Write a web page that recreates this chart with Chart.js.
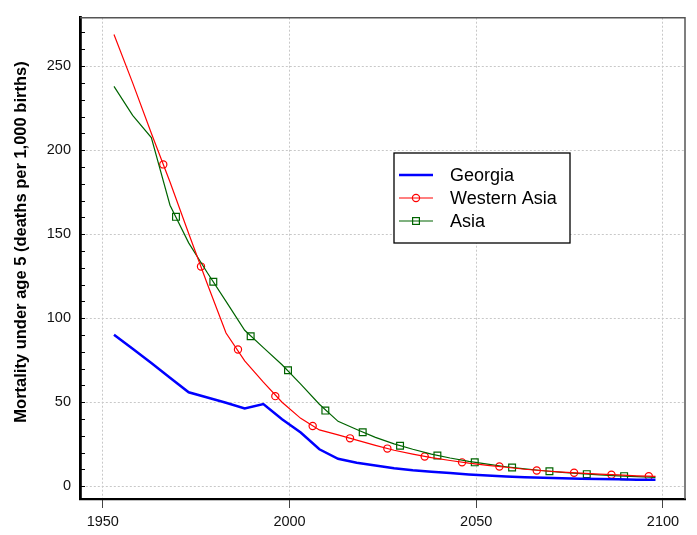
<!DOCTYPE html>
<html>
<head>
<meta charset="utf-8">
<script src="https://cdn.jsdelivr.net/npm/chart.js@4.4.1/dist/chart.umd.min.js"></script>
<style>
html, body { margin: 0; padding: 0; background: #fff; }
</style>
</head>
<body>
<canvas id="chart" width="697" height="535"></canvas>
<script>
// period mid-years (5-year steps)
var years = [1953, 1958, 1963, 1968, 1973, 1978, 1983, 1988, 1993, 1998,
             2003, 2008, 2013, 2018, 2023, 2028, 2033, 2038, 2043, 2048,
             2053, 2058, 2063, 2068, 2073, 2078, 2083, 2088, 2093, 2098];

var georgia = [90.1, 81.8, 73.3, 64.6, 55.9, 52.8, 49.7, 46.3, 48.9, 39.9,
               32.0, 22.0, 16.3, 14.0, 12.3, 10.7, 9.5, 8.6, 7.8, 7.0,
               6.4, 5.8, 5.4, 5.1, 4.8, 4.5, 4.3, 4.1, 3.9, 3.8];

var westernAsia = [268.8, 240.0, 210.0, 181.0, 150.4, 120.3, 91.2, 74.6, 61.9, 50.0,
                   40.4, 33.5, 30.6, 27.4, 24.3, 21.4, 19.1, 17.0, 15.3, 13.7,
                   12.4, 11.3, 10.1, 9.2, 8.4, 7.8, 7.2, 6.7, 6.2, 5.9];

var asia = [237.9, 220.7, 207.5, 167.2, 144.8, 127.0, 110.0, 92.8, 82.5, 72.3,
            60.8, 48.8, 38.6, 33.8, 29.1, 25.2, 22.0, 19.1, 16.8, 14.8,
            13.1, 11.6, 10.3, 9.2, 8.3, 7.5, 6.8, 6.2, 5.7, 5.3];

// symbols drawn along the lines every 10 years
var westernAsiaMarkYears = [1966.2, 1976.3, 1986.2, 1996.2, 2006.2, 2016.2, 2026.2,
                            2036.2, 2046.2, 2056.2, 2066.2, 2076.2, 2086.2, 2096.2];
var westernAsiaMarks = [191.5, 130.7, 81.4, 53.6, 35.8, 28.5, 22.4,
                        17.7, 14.2, 11.7, 9.4, 8.0, 6.8, 6.0];

var asiaMarkYears = [1969.6, 1979.6, 1989.6, 1999.6, 2009.6, 2019.6, 2029.6,
                     2039.6, 2049.6, 2059.6, 2069.6, 2079.6, 2089.6];
var asiaMarks = [160.3, 121.7, 89.2, 69.0, 45.0, 32.1, 24.1,
                 18.3, 14.2, 11.1, 8.9, 7.2, 6.0];

var xTicks = [1950, 2000, 2050, 2100];
var yTicks = [0, 50, 100, 150, 200, 250];
var yMinorStep = 10;
var yTitle = 'Mortality under age 5 (deaths per 1,000 births)';

function pts(xs, ys) {
  return xs.map(function (x, i) { return { x: x, y: ys[i] }; });
}

var fontFamily = 'Arial, "Liberation Sans", sans-serif';

var legendItems = [
  { label: 'Georgia', color: '#0000ff', width: 2.5, marker: null },
  { label: 'Western Asia', color: '#ff0000', width: 1.2, marker: 'circle' },
  { label: 'Asia', color: '#006400', width: 1.2, marker: 'rect' }
];

// inward ticks on the y axis, frame top/right, y title, boxed legend
var extras = {
  id: 'extras',
  afterDraw: function (chart) {
    var c = chart.ctx;
    var area = chart.chartArea;
    var ys = chart.scales.y;
    c.save();
    c.strokeStyle = '#000';
    c.lineWidth = 1;
    ys.ticks.forEach(function (t) {
      var py = Math.round(ys.getPixelForValue(t.value)) + 0.5;
      c.beginPath();
      c.moveTo(area.left, py);
      c.lineTo(area.left + 5, py);
      c.stroke();
    });
    c.strokeStyle = '#555';
    c.lineWidth = 1.5;
    c.beginPath();
    c.moveTo(area.left, area.top);
    c.lineTo(area.right, area.top);
    c.lineTo(area.right, area.bottom);
    c.stroke();

    // y axis title
    c.save();
    c.translate(21, 242);
    c.rotate(-Math.PI / 2);
    c.font = 'bold 16.5px ' + fontFamily;
    c.fillStyle = '#000';
    c.textAlign = 'center';
    c.textBaseline = 'middle';
    c.fillText(yTitle, 0, 0);
    c.restore();

    // legend
    var bx = 394, by = 153, bw = 176, bh = 90;
    c.fillStyle = '#fff';
    c.fillRect(bx, by, bw, bh);
    c.strokeStyle = '#000';
    c.lineWidth = 1.3;
    c.strokeRect(bx, by, bw, bh);
    c.font = '18px ' + fontFamily;
    c.textBaseline = 'middle';
    legendItems.forEach(function (it, i) {
      var y = by + 22 + i * 23;
      c.strokeStyle = it.color;
      c.lineWidth = it.width;
      c.beginPath();
      c.moveTo(bx + 5, y);
      c.lineTo(bx + 39, y);
      c.stroke();
      c.lineWidth = 1.2;
      if (it.marker === 'circle') {
        c.beginPath();
        c.arc(bx + 22, y, 3.6, 0, Math.PI * 2);
        c.stroke();
      } else if (it.marker === 'rect') {
        c.strokeRect(bx + 22 - 3.4, y - 3.4, 6.8, 6.8);
      }
      c.fillStyle = '#000';
      c.fillText(it.label, bx + 56, y + 1);
    });
    c.restore();
  }
};

var ctx = document.getElementById('chart').getContext('2d');

var chart = new Chart(ctx, {
  type: 'line',
  data: {
    datasets: [
      {
        label: 'Georgia',
        data: pts(years, georgia),
        borderColor: '#0000ff',
        borderWidth: 2.5,
        pointRadius: 0,
        tension: 0
      },
      {
        label: 'Western Asia',
        data: pts(years, westernAsia),
        borderColor: '#ff0000',
        borderWidth: 1.2,
        pointRadius: 0,
        tension: 0
      },
      {
        label: 'Asia',
        data: pts(years, asia),
        borderColor: '#006400',
        borderWidth: 1.2,
        pointRadius: 0,
        tension: 0
      },
      {
        label: 'Western Asia symbols',
        data: pts(westernAsiaMarkYears, westernAsiaMarks),
        showLine: false,
        pointStyle: 'circle',
        pointRadius: 3.6,
        pointBorderWidth: 1.2,
        pointBorderColor: '#ff0000',
        pointBackgroundColor: 'rgba(0,0,0,0)'
      },
      {
        label: 'Asia symbols',
        data: pts(asiaMarkYears, asiaMarks),
        showLine: false,
        pointStyle: 'rect',
        pointRadius: 4.8,
        pointBorderWidth: 1.2,
        pointBorderColor: '#006400',
        pointBackgroundColor: 'rgba(0,0,0,0)'
      }
    ]
  },
  options: {
    responsive: false,
    animation: false,
    devicePixelRatio: 1,
    layout: { padding: { left: 0, top: 9, right: 12, bottom: 0 } },
    plugins: {
      legend: { display: false },
      tooltip: { enabled: false }
    },
    scales: {
      x: {
        type: 'linear',
        min: 1943.9,
        max: 2105.9,
        afterBuildTicks: function (s) {
          s.ticks = xTicks.map(function (v) { return { value: v }; });
        },
        afterFit: function (s) { s.height = 36; },
        ticks: {
          color: '#111',
          font: { size: 14.5, family: fontFamily },
          padding: 5,
          maxRotation: 0,
          callback: function (v) { return String(v); }
        },
        grid: {
          color: '#c8c8c8',
          lineWidth: 1,
          tickLength: 9,
          tickColor: '#222',
          tickWidth: 1,
          tickBorderDash: [1, 0]
        },
        border: { color: '#000', width: 2.2, dash: [2, 2] }
      },
      y: {
        min: -7.6,
        max: 278.8,
        afterBuildTicks: function (s) {
          var t = [];
          for (var v = 0; v <= 270; v += yMinorStep) t.push({ value: v });
          s.ticks = t;
        },
        afterFit: function (s) { s.width = 80; },
        ticks: {
          color: '#111',
          font: { size: 14.5, family: fontFamily },
          padding: 9,
          autoSkip: false,
          callback: function (v) { return yTicks.indexOf(v) >= 0 ? String(v) : ''; }
        },
        grid: {
          drawTicks: false,
          lineWidth: 1,
          color: function (c) {
            return yTicks.indexOf(c.tick.value) >= 0 ? '#c8c8c8' : 'rgba(0,0,0,0)';
          }
        },
        border: { color: '#000', width: 2.8, dash: [2, 2] }
      }
    }
  },
  plugins: [extras]
});
</script>
</body>
</html>
